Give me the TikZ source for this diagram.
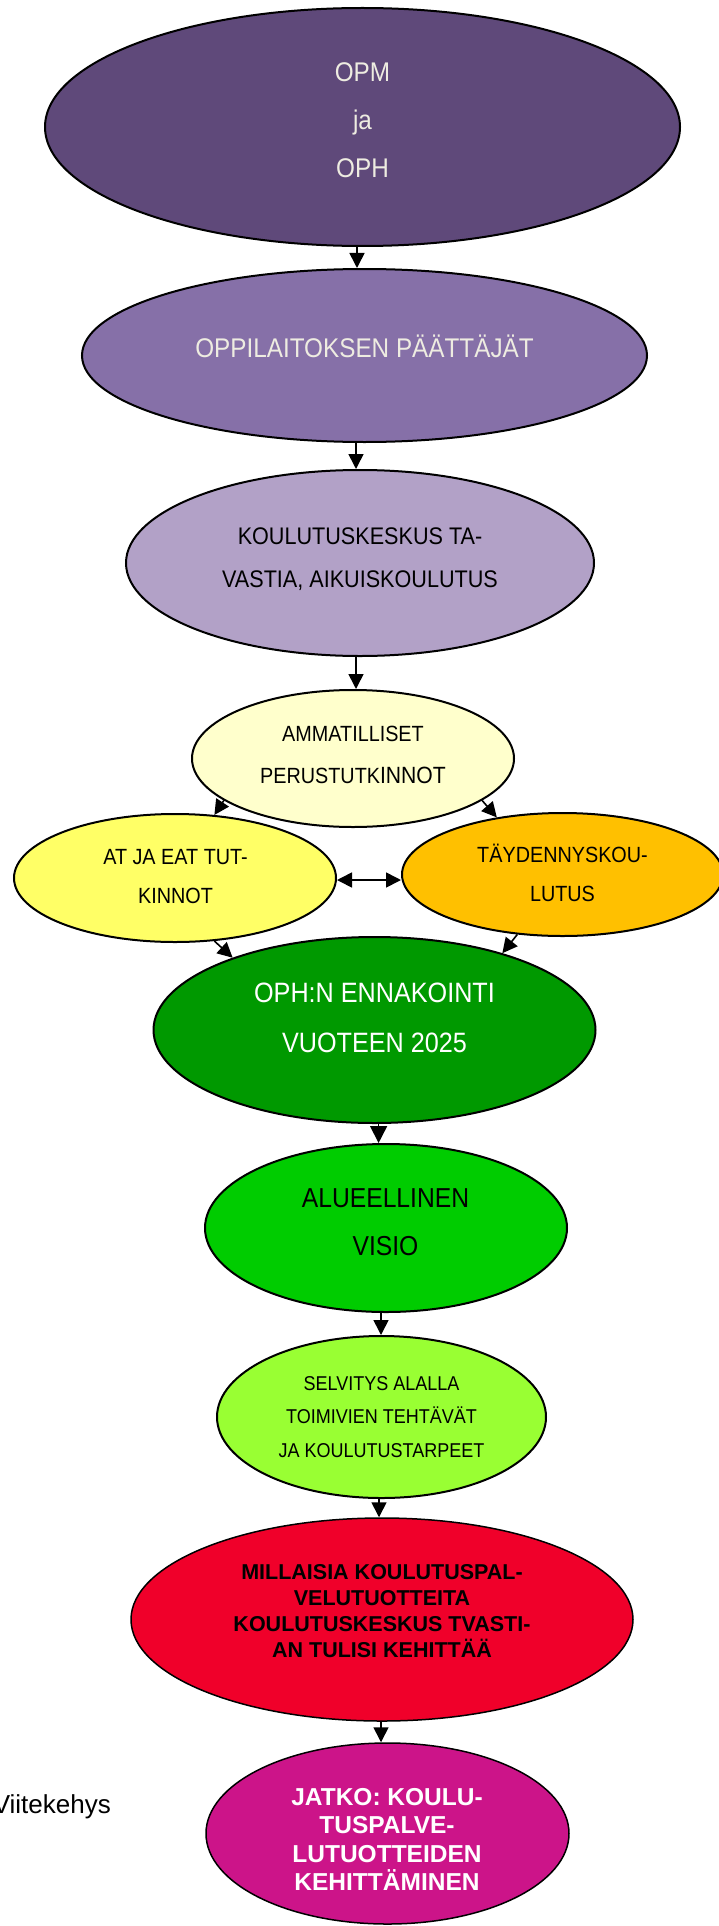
\documentclass[tikz,border=0pt]{standalone}
\usepackage{fontspec}
\setmainfont{Liberation Sans}
\newfontfamily\cond{Liberation Sans}[FakeStretch=0.9]
\usetikzlibrary{shapes.geometric,arrows.meta}
\definecolor{cA}{HTML}{5F497A}
\definecolor{cB}{HTML}{8670A8}
\definecolor{cC}{HTML}{B2A1C7}
\definecolor{cD}{HTML}{FFFFCC}
\definecolor{cE}{HTML}{FFFF66}
\definecolor{cF}{HTML}{FFC000}
\definecolor{cG}{HTML}{009900}
\definecolor{cH}{HTML}{00CC00}
\definecolor{cI}{HTML}{99FF33}
\definecolor{cJ}{HTML}{F0002A}
\definecolor{cK}{HTML}{CC1489}
\definecolor{cream}{HTML}{EEECE1}
\begin{document}
\begin{tikzpicture}[x=1pt,y=-1pt,
  ell/.style={ellipse, draw=black, line width=2pt, inner sep=0pt},
  txt/.style={align=center, inner sep=0pt, text depth=0pt},
  arr/.style={line width=1.6pt, -{Triangle[length=15pt,width=15pt]}},
  bigarr/.style={line width=1.6pt, -{Triangle[length=17pt,width=17pt]}},
  darr/.style={line width=1.6pt, {Triangle[length=15pt,width=15pt]}-{Triangle[length=15pt,width=15pt]}}]
\useasboundingbox (0,0) rectangle (718,1926);

% ellipses
\node[ell, fill=cA, minimum width=635pt, minimum height=238pt] (e1) at (362.5,127) {};
\node[ell, fill=cB, minimum width=565pt, minimum height=173pt] (e2) at (364.5,355.5) {};
\node[ell, fill=cC, minimum width=468pt, minimum height=186pt] (e3) at (360,563) {};
\node[ell, fill=cD, minimum width=322pt, minimum height=137pt] (e4) at (353,758.5) {};
\node[ell, fill=cE, minimum width=322pt, minimum height=128pt] (e5) at (175,878) {};
\node[ell, fill=cF, minimum width=321pt, minimum height=123pt] (e6) at (562.5,874.5) {};
\node[ell, fill=cG, minimum width=442pt, minimum height=186pt] (e7) at (374.5,1030) {};
\node[ell, fill=cH, minimum width=362pt, minimum height=168pt] (e8) at (386,1228) {};
\node[ell, fill=cI, minimum width=329pt, minimum height=162pt] (e9) at (381.5,1417) {};
\node[ell, fill=cJ, line width=1.5pt, minimum width=502pt, minimum height=203pt] (e10) at (382,1619.5) {};
\node[ell, fill=cK, line width=1.5pt, minimum width=363pt, minimum height=181pt] (e11) at (387.5,1833.5) {};

% texts
\node[txt, text=cream, font=\cond\fontsize{27}{47.75}\selectfont, text height=114.8pt] (t1) at (362.5,119.75) {OPM\\ja\\OPH};
\node[txt, text=cream, font=\cond\fontsize{27}{32}\selectfont, text height=19.3pt] (t2) at (364.5,348) {OPPILAITOKSEN PÄÄTTÄJÄT};
\node[txt, font=\cond\fontsize{24}{43}\selectfont, text height=60.2pt] (t3) at (360,557) {KOULUTUSKESKUS TA-\\VASTIA, AIKUISKOULUTUS};
\node[txt, font=\cond\fontsize{22}{41.5}\selectfont, text height=57.25pt] (t4) at (353,754.75) {AMMATILLISET\\PERUSTUTK{\fontsize{23.5}{41.5}\selectfont INNOT}};
\node[txt, font=\cond\fontsize{22}{39}\selectfont, text height=54.75pt] (t5) at (175.5,876.5) {AT JA EAT TUT-\\KINNOT};
\node[txt, font=\cond\fontsize{22}{38.5}\selectfont, text height=54.25pt] (t6) at (562.5,874.25) {TÄYDENNYSKOU-\\LUTUS};
\node[txt, text=white, font=\cond\fontsize{28}{50}\selectfont, text height=70pt] (t7) at (374.5,1017.5) {OPH:N ENNAKOINTI\\VUOTEEN 2025};
\node[txt, font=\cond\fontsize{27.4}{48}\selectfont, text height=67.6pt] (t8) at (385.5,1222) {ALUEELLINEN\\VISIO};
\node[txt, font=\cond\fontsize{20}{33.5}\selectfont, text height=81.3pt] (t9) at (381.5,1416.5) {SELVITYS ALALLA\\TOIMIVIEN TEHTÄVÄT\\JA KOULUTUSTARPEET};
\node[txt, font=\bfseries\fontsize{21.5}{26}\selectfont, text height=93.4pt] (t10) at (382,1610.75) {MILLAISIA KOULUTUSPAL-\\VELUTUOTTEITA\\KOULUTUSKESKUS TVASTI-\\AN TULISI KEHITTÄÄ};
\node[txt, text=white, font=\bfseries\fontsize{24.5}{28.6}\selectfont, text height=103.3pt] (t11) at (387,1839.25) {JATKO: KOULU-\\TUSPALVE-\\LUTUOTTEIDEN\\KEHITTÄMINEN};
\node[inner sep=0pt, anchor=base east, font=\fontsize{26}{32}\selectfont] (vk) at (111,1813) {Viitekehys};

% connectors
\coordinate (a12) at (357,0);
\coordinate (a23) at (356,0);
\coordinate (a34) at (356,0);
\coordinate (a78) at (378.6,0);
\coordinate (a89) at (381,0);
\coordinate (a910) at (379,0);
\coordinate (a1011) at (381,0);
\coordinate (dd) at (0,880);
\draw[arr] (e1.south -| a12) -- (e2.north -| a12);
\draw[arr] (e2.south -| a23) -- (e3.north -| a23);
\draw[arr] (e3.south -| a34) -- (e4.north -| a34);
\draw[arr] (e4.198) -- (e5.58);
\draw[arr] (e4.342) -- (e6.139);
\draw[darr] (e5.east |- dd) -- (e6.west |- dd);
\draw[arr] (e5.302) -- (e7.153);
\draw[arr] (e6.233) -- (e7.31);
\draw[bigarr] (e7.south -| a78) -- (e8.north -| a78);
\draw[arr] (e8.south -| a89) -- (e9.north -| a89);
\draw[arr] (e9.south -| a910) -- (e10.north -| a910);
\draw[arr] (e10.south -| a1011) -- (e11.north -| a1011);
\end{tikzpicture}
\end{document}
